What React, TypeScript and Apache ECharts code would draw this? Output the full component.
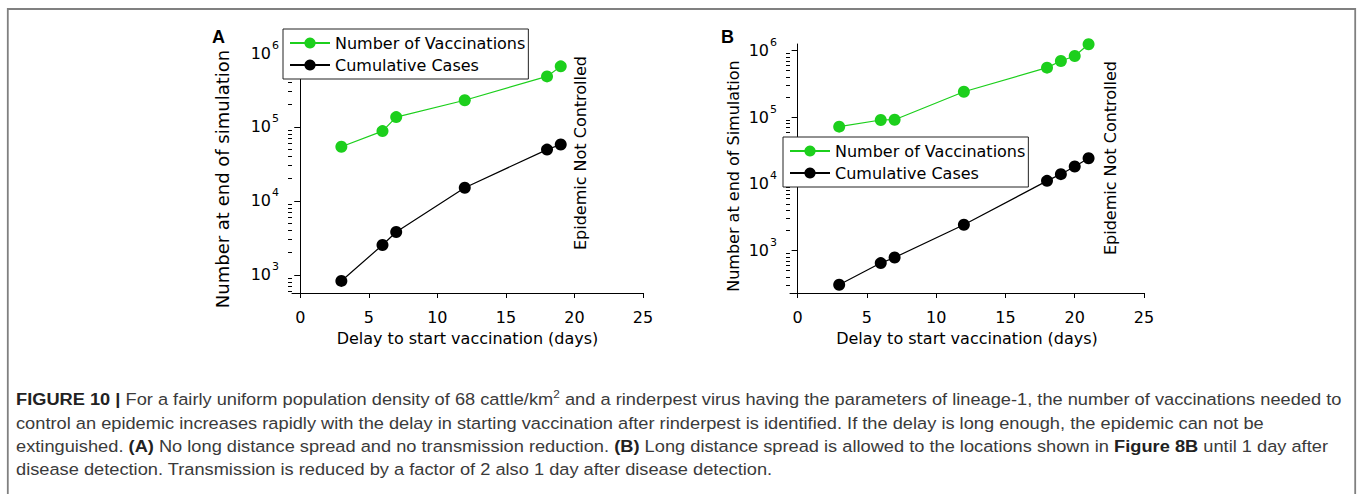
import React, { useEffect, useRef } from "react";
import * as echarts from "echarts";

// ---------- data ----------
const xTicks = [0, 5, 10, 15, 20, 25];
const yMajorTicks = [1e3, 1e4, 1e5, 1e6];
const minorMultipliers = [2, 3, 4, 5, 6, 7, 8, 9];
const decades = [100, 1000, 10000, 100000, 1000000];
const seriesNames = ["Number of Vaccinations", "Cumulative Cases"];

const delaysA = [3, 6, 7, 12, 18, 19];
const vaccinationsA = [54000, 88000, 136000, 230000, 483000, 660000];
const casesA = [830, 2540, 3800, 15100, 49500, 58000];

const delaysB = [3, 6, 7, 12, 18, 19, 20, 21];
const vaccinationsB = [72300, 91000, 92000, 242000, 556000, 701000, 833000, 1250000];
const casesB = [306, 647, 785, 2430, 11100, 14000, 18200, 24300];

const xTitle = "Delay to start vaccination (days)";
const yTitleA = "Number at end of simulation";
const yTitleB = "Number at end of Simulation";
const noteText = "Epidemic Not Controlled";

const captionLines = [
  "{b|FIGURE 10 |} For a fairly uniform population density of 68 cattle/km{s|2} and a rinderpest virus having the parameters of lineage-1, the number of vaccinations needed to",
  "control an epidemic increases rapidly with the delay in starting vaccination after rinderpest is identified. If the delay is long enough, the epidemic can not be",
  "extinguished. {b|(A)} No long distance spread and no transmission reduction. {b|(B)} Long distance spread is allowed to the locations shown in {b|Figure 8B} until 1 day after",
  "disease detection. Transmission is reduced by a factor of 2 also 1 day after disease detection.",
];

// ---------- styles ----------
const GREEN = "#1ccf1c";
const FONT = "DejaVu Sans";
const minorTicks: number[] = [];
decades.forEach((d) => minorMultipliers.forEach((m) => minorTicks.push(d * m)));

const pairs = (xs: number[], ys: number[]) => xs.map((x, i) => [x, ys[i]]);

function makeX(grid: number, min: number) {
  return {
    type: "value",
    gridIndex: grid,
    min,
    max: 25,
    name: xTitle,
    nameLocation: "middle",
    nameGap: 37,
    nameTextStyle: { fontFamily: FONT, fontSize: 16, color: "#000" },
    axisLine: { onZero: false, lineStyle: { color: "#000", width: 1 } },
    axisTick: { customValues: xTicks, length: 5, lineStyle: { color: "#000" } },
    axisLabel: { customValues: xTicks, margin: 16, fontFamily: FONT, fontSize: 16, color: "#000" },
    splitLine: { show: false },
  };
}

function makeYMajor(grid: number, min: number, max: number, title: string, gap: number, size: number, pad: number) {
  return {
    type: "log",
    logBase: 10,
    gridIndex: grid,
    position: "left",
    min,
    max,
    name: title,
    nameLocation: "middle",
    nameGap: gap,
    nameRotate: 90,
    nameTextStyle: { fontFamily: FONT, fontSize: size, color: "#000", padding: [0, pad, 0, 0] },
    axisLine: { show: true, lineStyle: { color: "#000", width: 1 } },
    axisTick: { customValues: yMajorTicks, length: 6, lineStyle: { color: "#000" } },
    axisLabel: {
      customValues: yMajorTicks,
      margin: 13,
      color: "#000",
      formatter: (v: number) => `{m|10}{s|${Math.round(Math.log10(v))}}`,
      rich: {
        m: { fontFamily: FONT, fontSize: 16, color: "#000" },
        s: { fontFamily: FONT, fontSize: 11, color: "#000", padding: [0, 0, 16, 1] },
      },
    },
    splitLine: { show: false },
  };
}

function makeYMinor(grid: number, min: number, max: number) {
  return {
    type: "log",
    logBase: 10,
    gridIndex: grid,
    position: "left",
    min,
    max,
    axisLine: { show: false },
    axisTick: { customValues: minorTicks, length: 4, lineStyle: { color: "#000" } },
    axisLabel: { show: false },
    splitLine: { show: false },
  };
}

function makeLegend(left: number, top: number) {
  return {
    orient: "vertical",
    left,
    top,
    z: 10,
    data: seriesNames,
    selectedMode: false,
    backgroundColor: "#fff",
    borderColor: "#222",
    borderWidth: 1,
    padding: [6, 3, 6, 6],
    itemWidth: 40,
    itemHeight: 14,
    itemGap: 6,
    textStyle: { fontFamily: FONT, fontSize: 16, color: "#000", lineHeight: 16 },
  };
}

function makeSeries(name: string, color: string, xi: number, yi: number, data: number[][]) {
  return {
    name,
    type: "line",
    xAxisIndex: xi,
    yAxisIndex: yi,
    data,
    symbol: "circle",
    symbolSize: 12,
    lineStyle: { color, width: 1.2 },
    itemStyle: { color },
    z: 3,
  };
}

export default function App() {
  const ref = useRef<HTMLDivElement>(null);
  useEffect(() => {
    if (!ref.current) return;
    const chart = echarts.init(ref.current, undefined, { renderer: "svg" });
    const captionRich = {
      b: { fontFamily: "Liberation Sans", fontSize: 17, fontWeight: "bold", fill: "#222" },
      s: { fontFamily: "Liberation Sans", fontSize: 11, fill: "#3a3a3a", padding: [0, 0, 10, 0] },
    };
    const captionY = [399.5, 422.8, 446.1, 469.4];
    const captionScale = 1.073;
    const option: any = {
      animation: false,
      backgroundColor: "#fff",
      grid: [
        { left: 292, top: 40, width: 351, height: 253 },
        { left: 790, top: 44, width: 354, height: 249 },
      ],
      xAxis: [makeX(0, -0.6), makeX(1, -0.55)],
      yAxis: [
        makeYMajor(0, 570, 1.5e6, yTitleA, 61, 18, 25),
        makeYMinor(0, 570, 1.5e6),
        makeYMajor(1, 230, 1.26e6, yTitleB, 49, 16, 15),
        makeYMinor(1, 230, 1.26e6),
      ],
      legend: [makeLegend(283, 29), makeLegend(783, 137)],
      series: [
        makeSeries(seriesNames[0], GREEN, 0, 0, pairs(delaysA, vaccinationsA)),
        makeSeries(seriesNames[1], "#000", 0, 0, pairs(delaysA, casesA)),
        makeSeries(seriesNames[0], GREEN, 1, 2, pairs(delaysB, vaccinationsB)),
        makeSeries(seriesNames[1], "#000", 1, 2, pairs(delaysB, casesB)),
      ],
      graphic: [
        {
          type: "rect",
          silent: true,
          shape: { x: 7.8, y: 9, width: 1347.4, height: 520 },
          style: { fill: "none", stroke: "#808080", lineWidth: 1.8 },
        },
        {
          type: "text",
          x: 212,
          y: 28,
          style: { text: "A", fontFamily: "Liberation Sans", fontSize: 18, fontWeight: "bold", fill: "#000", align: "left", verticalAlign: "top" },
        },
        {
          type: "text",
          x: 721,
          y: 28,
          style: { text: "B", fontFamily: "Liberation Sans", fontSize: 18, fontWeight: "bold", fill: "#000", align: "left", verticalAlign: "top" },
        },
        {
          type: "text",
          x: 580,
          y: 153,
          rotation: Math.PI / 2,
          style: { text: noteText, fontFamily: FONT, fontSize: 16, fill: "#000", align: "center", verticalAlign: "middle" },
        },
        {
          type: "text",
          x: 1110.7,
          y: 158,
          rotation: Math.PI / 2,
          style: { text: noteText, fontFamily: FONT, fontSize: 16, fill: "#000", align: "center", verticalAlign: "middle" },
        },
        ...captionLines.map((line, i) => ({
          type: "text",
          x: 16,
          y: captionY[i],
          scaleX: captionScale,
          style: {
            text: line,
            fontFamily: "Liberation Sans",
            fontSize: 17,
            fill: "#3a3a3a",
            align: "left",
            verticalAlign: "middle",
            rich: captionRich,
          },
        })),
      ],
    };
    chart.setOption(option);
    return () => chart.dispose();
  }, []);
  return (
    <div
      ref={ref}
      style={{ position: "absolute", left: 0, top: 0, width: 1357, height: 494 }}
    />
  );
}
